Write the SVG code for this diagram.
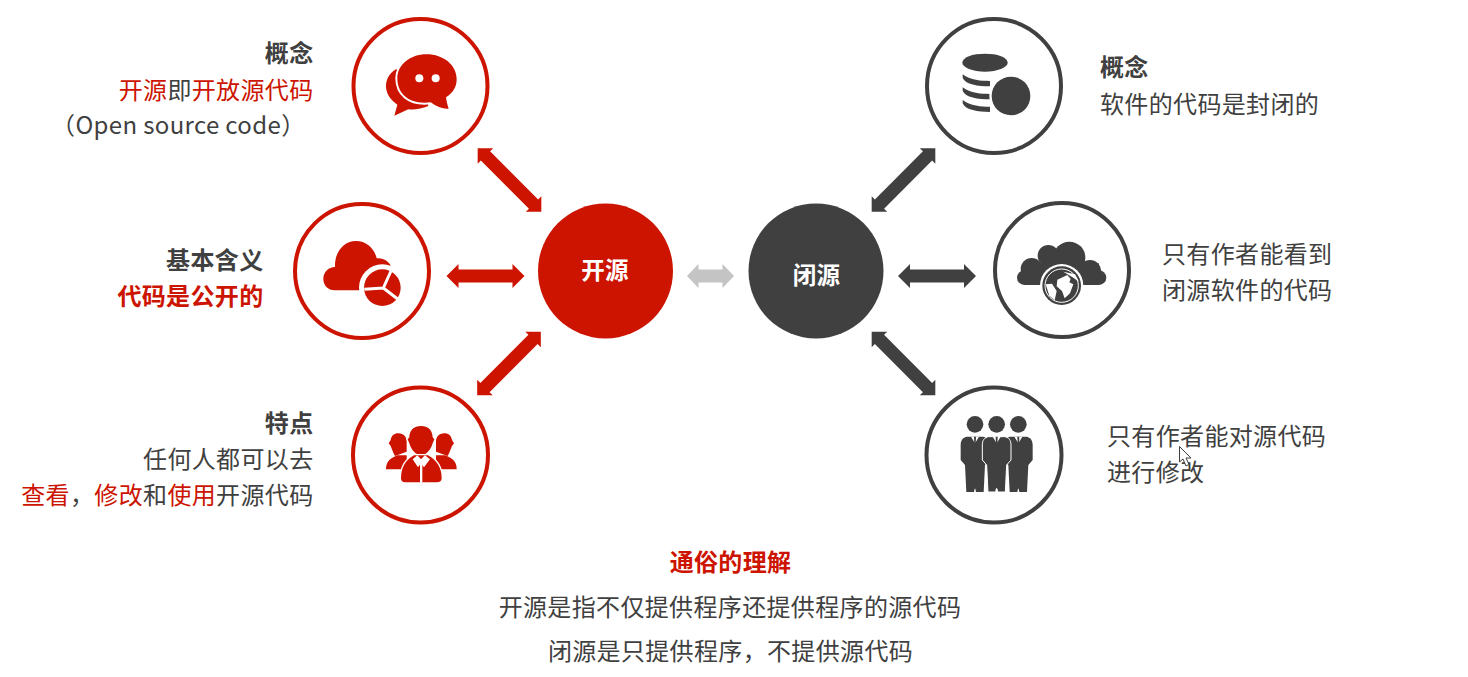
<svg xmlns="http://www.w3.org/2000/svg" xmlns:xlink="http://www.w3.org/1999/xlink" width="1468" height="677" viewBox="0 0 1468 677">
<style>
text{font-family:"Noto Sans CJK SC","Noto Sans",sans-serif;font-size:24px;fill:#404040;letter-spacing:.35px}
.b{font-weight:700}
.r{fill:#cc1400}
.e{text-anchor:end}
.m{text-anchor:middle}
.w{fill:#fff;font-weight:700;font-size:23.500px;text-anchor:middle}
.rr{fill:#fff;stroke:#cc1400;stroke-width:4}
.dr{fill:#fff;stroke:#404040;stroke-width:4}
.fr{fill:#cc1400}
.fd{fill:#404040}
.fg{fill:#c4c4c4}
.wf{fill:#fff}
</style>
<defs>
<polygon id="h" points="-39,0 -27,-12 -27,-6.500 27,-6.500 27,-12 39,0 27,12 27,6.500 -27,6.500 -27,12"/>
<polygon id="g" points="-23.500,0 -12,-12 -12,-6.500 12,-6.500 12,-12 23.500,0 12,12 12,6.500 -12,6.500 -12,12"/>
<polygon id="d" points="-45,0 -34,-11 -34,-6.500 34,-6.500 34,-11 45,0 34,11 34,6.500 -34,6.500 -34,11"/>
<path id="man" d="M-24,170C-36,172-43,180-43,195L-43,240L-30,255L-26,336L-3,336L-1,326L1,326L3,336L26,336L30,255L43,240L43,195C43,180 36,172 24,170Z"/>
<path id="side" d="M175,160C192,160 200,172 200,185L200,215L165,228C158,215 155,205 152,198L146,190L152,180C154,168 162,160 175,160Z"/>
</defs>
<rect width="1468" height="677" fill="#fff"/>

<g id="connectors">
<use xlink:href="#d" href="#d" class="fr" transform="translate(509.500 180) rotate(45)"/>
<use xlink:href="#h" href="#h" class="fr" transform="translate(485.500 276)"/>
<use xlink:href="#d" href="#d" class="fr" transform="translate(509 363.500) rotate(-45)"/>
<use xlink:href="#g" href="#g" class="fg" transform="translate(710.500 276)"/>
<use xlink:href="#d" href="#d" class="fd" transform="translate(903.500 180) rotate(-45)"/>
<use xlink:href="#h" href="#h" class="fd" transform="translate(937 276)"/>
<use xlink:href="#d" href="#d" class="fd" transform="translate(903.500 363.500) rotate(45)"/>
</g>

<g id="node-open">
<circle cx="605.500" cy="271" r="67.500" class="fr"/>
<text x="605" y="279" class="w">开源</text>
</g>
<g id="node-closed">
<circle cx="816" cy="271" r="67.500" class="fd"/>
<text x="816.500" y="284" class="w">闭源</text>
</g>

<g id="node-open-concept">
<circle cx="420.500" cy="86" r="67" class="rr"/>
<g transform="translate(340 10) scale(.33333)" class="fr">
<path d="M168,178C145,190 137,215 138,232C140,258 158,275 172,284L163,317L205,298C225,300 245,296 265,288L250,200Z"/>
<path d="M260,133C310,133 350,165 350,208C350,230 340,248 318,262C320,275 322,285 326,296C310,298 290,290 272,277C205,285 172,250 172,205C172,165 210,133 260,133Z" stroke="#fff" stroke-width="12" paint-order="stroke"/>
<circle cx="238" cy="205" r="12" class="wf"/><circle cx="287" cy="205" r="12" class="wf"/>
</g>
<text x="313.500" y="62" class="e b">概念</text>
<text x="313.500" y="99" class="e"><tspan class="r">开源</tspan>即<tspan class="r">开放源代码</tspan></text>
<text x="305.500" y="134" class="e">（Open source code）</text>
</g>

<g id="node-open-meaning">
<circle cx="362" cy="271" r="67" class="rr"/>
<g transform="translate(285 195) scale(.33333)">
<path class="fr" d="M150,286C128,286 115,270 115,252C115,232 130,216 150,216C148,170 178,138 212,138C245,138 268,160 275,190C300,188 320,205 320,225L240,286Z"/>
<circle cx="292" cy="278" r="70" class="wf"/>
<circle cx="292" cy="278" r="55" class="fr"/>
<path d="M295,279L318,228M295,279L238,283M295,279L338,312" fill="none" stroke="#fff" stroke-width="9"/>
</g>
<text x="263.500" y="269" class="e b">基本含义</text>
<text x="263.500" y="305" class="e b r">代码是公开的</text>
</g>

<g id="node-open-features">
<circle cx="420.500" cy="455" r="67.500" class="rr"/>
<g transform="translate(340 380) scale(.33333)" class="fr">
<use xlink:href="#side" href="#side"/>
<use xlink:href="#side" href="#side" transform="translate(488 0) scale(-1 1)"/>
<path d="M138,268C138,245 150,236 172,226L200,226L200,268Z"/>
<path d="M350,268C350,245 338,236 316,226L288,226L288,268Z"/>
<path d="M243,138C268,138 278,155 278,172L283,178L278,190C272,210 258,226 243,226C228,226 214,210 208,190L203,178L208,172C208,155 218,138 243,138Z" stroke="#fff" stroke-width="8" paint-order="stroke"/>
<path d="M183,295C183,265 195,240 222,226L264,226C291,240 305,265 305,295Q305,307 290,307L196,307Q183,307 183,295Z" stroke="#fff" stroke-width="8" paint-order="stroke"/>
<path d="M218,238L232,226L243,238L255,226L270,238L252,262L243,250L234,262Z" class="wf"/>
<rect x="240" y="250" width="7" height="58" class="wf"/>
</g>
<text x="313.500" y="432" class="e b">特点</text>
<text x="313.500" y="468" class="e">任何人都可以去</text>
<text x="313.500" y="504" class="e"><tspan class="r">查看</tspan>，<tspan class="r">修改</tspan>和<tspan class="r">使用</tspan>开源代码</text>
</g>

<g id="node-closed-concept">
<circle cx="994" cy="86" r="67" class="dr"/>
<g transform="translate(915 10) scale(.33333)" class="fd">
<ellipse cx="210" cy="158" rx="68" ry="27"/>
<path d="M143,193C165,211 200,213 225,213L225,229C190,229 150,223 143,203Z"/>
<path d="M143,232C165,250 200,252 225,252L225,268C190,268 150,262 143,242Z"/>
<path d="M143,270C165,288 200,290 225,290L225,306C190,306 150,300 143,280Z"/>
<circle cx="288" cy="258" r="65" class="wf"/>
<circle cx="288" cy="258" r="58"/>
</g>
<text x="1100" y="76" class="b">概念</text>
<text x="1100" y="113">软件的代码是封闭的</text>
</g>

<g id="node-closed-source">
<circle cx="1062" cy="270" r="67" class="dr"/>
<g transform="translate(980 195) scale(.33333)" class="fd">
<circle cx="205" cy="182" r="32"/><circle cx="268" cy="188" r="48"/><circle cx="330" cy="228" r="33"/><circle cx="155" cy="222" r="33"/>
<circle cx="133" cy="248" r="22"/><circle cx="357" cy="248" r="22"/>
<rect x="133" y="205" width="224" height="65"/>
<circle cx="245" cy="272" r="65" class="wf"/>
<circle cx="245" cy="272" r="58"/>
<circle cx="245" cy="272" r="50" fill="none" stroke="#fff" stroke-width="3"/>
<path d="M232,254L262,240L272,252L268,262L280,268L270,295L254,310L246,288L230,274Z" class="wf"/>
<path d="M197,268L216,266L230,288L224,316L208,302Z" class="wf"/>
<path d="M250,230L285,238L297,260L280,248Z" class="wf"/>
</g>
<text x="1162" y="263">只有作者能看到</text>
<text x="1162" y="299">闭源软件的代码</text>
</g>

<g id="node-closed-modify">
<circle cx="994" cy="455" r="67.500" class="dr"/>
<g transform="translate(915 380) scale(.33333)" class="fd">
<circle cx="180" cy="133" r="25"/><circle cx="245" cy="133" r="25"/><circle cx="310" cy="133" r="25"/>
<use xlink:href="#man" href="#man" transform="translate(180 0)"/>
<use xlink:href="#man" href="#man" transform="translate(310 0)"/>
<use xlink:href="#man" href="#man" transform="translate(245 0)" stroke="#fff" stroke-width="3"/>
<path d="M168,170L180,190L192,170ZM233,170L245,190L257,170ZM298,170L310,190L322,170Z" class="wf"/>
<path d="M177,170H183L182,196L180,200L178,196ZM242,170H248L247,196L245,200L243,196ZM307,170H313L312,196L310,200L308,196Z"/>
</g>
<text x="1107" y="445">只有作者能对源代码</text>
<text x="1107" y="481">进行修改</text>
</g>

<g id="summary">
<text x="730.500" y="571" class="m b r">通俗的理解</text>
<text x="730" y="616" class="m">开源是指不仅提供程序还提供程序的源代码</text>
<text x="730.500" y="660" class="m">闭源是只提供程序，不提供源代码</text>
</g>

<path id="cursor" d="M1179.500,446.500V462L1183,459L1186,466L1189,464.500L1186,458L1191,458Z" fill="#fff" stroke="#404040" stroke-width="1"/>
</svg>
